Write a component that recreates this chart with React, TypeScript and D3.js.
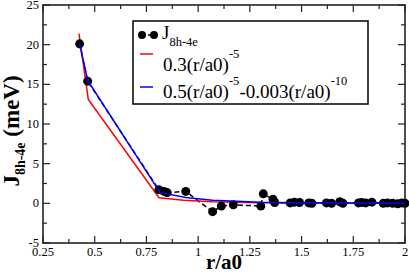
import React from "react";
import * as d3 from "d3";

// J_8h-4e data points (r/a0, meV)
const rData = [0.427, 0.466, 0.81, 0.835, 0.85, 0.94, 1.07, 1.112, 1.17, 1.303, 1.315, 1.362, 1.37, 1.445, 1.465, 1.49, 1.535, 1.55, 1.62, 1.645, 1.685, 1.7, 1.775, 1.79, 1.81, 1.84, 1.895, 1.915, 1.94, 1.965, 1.985, 2.0];
const jData = [20.1, 15.4, 1.72, 1.5, 1.35, 1.5, -1.05, -0.35, -0.18, -0.35, 1.2, 0.5, 0.1, 0.05, 0.15, 0.1, 0.05, 0.0, 0.05, 0.0, 0.2, 0.0, 0.05, 0.1, 0.05, 0.15, 0.0, 0.05, 0.0, -0.05, 0.05, 0.0];

// 0.3(r/a0)^-5 fit
const rRed = [0.424, 0.469, 0.811, 0.93, 1.07, 1.3, 1.5, 1.75, 2.0];
const jRed = [21.4, 13.1, 0.7, 0.4, 0.2, 0.08, 0.04, 0.02, 0.01];

// 0.5(r/a0)^-5-0.003(r/a0)^-10 fit
const rBlue = [0.427, 0.466, 0.815, 0.94, 1.07, 1.3, 1.5, 1.75, 2.0];
const jBlue = [20.1, 15.5, 1.38, 0.75, 0.4, 0.13, 0.06, 0.03, 0.01];

const xTicks = [0.25, 0.5, 0.75, 1, 1.25, 1.5, 1.75, 2];
const yTicks = [-5, 0, 5, 10, 15, 20, 25];

const W = 409;
const H = 273;
const FS = { fontFamily: '"Liberation Serif", monospace' };

const margin = { top: 5, left: 43, bottom: 30, right: 4 };
const x = d3.scaleLinear().domain([0.25, 2]).range([margin.left, W - margin.right]);
const y = d3.scaleLinear().domain([-5, 25]).range([H - margin.bottom, margin.top]);

type P = [number, number];
const line = d3
  .line<P>()
  .x((d) => x(d[0]))
  .y((d) => y(d[1]));

const App = () => {
  const [x0, x1] = x.range();
  const [y0, y1] = y.range();
  const xMinor = d3.range(0.375, 2, 0.25);
  const yMinor = d3.range(-2.5, 25, 5);
  const pts: P[] = rData.map((r, i) => [r, jData[i]]);
  const red: P[] = rRed.map((r, i) => [r, jRed[i]]);
  const blue: P[] = rBlue.map((r, i) => [r, jBlue[i]]);

  return (
    <svg width={W} height={H} style={{ position: "absolute", left: 0, top: 0, background: "white" }}>
      {/* ticks, inward on all sides */}
      <g stroke="#222" strokeWidth={1.2}>
        {xTicks.map((t) => (
          <g key={"xt" + t}>
            <line x1={x(t)} x2={x(t)} y1={y0} y2={y0 - 7} />
            <line x1={x(t)} x2={x(t)} y1={y1} y2={y1 + 7} />
          </g>
        ))}
        {xMinor.map((t) => (
          <g key={"xm" + t}>
            <line x1={x(t)} x2={x(t)} y1={y0} y2={y0 - 4} />
            <line x1={x(t)} x2={x(t)} y1={y1} y2={y1 + 4} />
          </g>
        ))}
        {yTicks.map((t) => (
          <g key={"yt" + t}>
            <line x1={x0} x2={x0 + 7} y1={y(t)} y2={y(t)} />
            <line x1={x1} x2={x1 - 7} y1={y(t)} y2={y(t)} />
          </g>
        ))}
        {yMinor.map((t) => (
          <g key={"ym" + t}>
            <line x1={x0} x2={x0 + 4} y1={y(t)} y2={y(t)} />
            <line x1={x1} x2={x1 - 4} y1={y(t)} y2={y(t)} />
          </g>
        ))}
      </g>
      <rect x={x0} y={y1} width={x1 - x0} height={y0 - y1} fill="none" stroke="#222" strokeWidth={1.6} />

      {/* tick labels */}
      {xTicks.map((t) => (
        <text key={"xl" + t} x={x(t)} y={y0 + 13} textAnchor="middle" fontSize={12.5} style={FS}>
          {String(t)}
        </text>
      ))}
      {yTicks.map((t) => (
        <text key={"yl" + t} x={x0 - 4} y={y(t) + 4} textAnchor="end" fontSize={12.5} style={FS}>
          {String(t)}
        </text>
      ))}

      {/* series */}
      <path d={line(pts) ?? ""} fill="none" stroke="black" strokeWidth={1.5} strokeDasharray="5,3" />
      <path d={line(red) ?? ""} fill="none" stroke="#ff0000" strokeWidth={1.5} />
      {pts.map((d, i) => (
        <circle key={i} cx={x(d[0])} cy={y(d[1])} r={4.5} fill="black" />
      ))}
      <path d={line(blue) ?? ""} fill="none" stroke="#0000ff" strokeWidth={1.5} />

      {/* axis titles */}
      <text x={(x0 + x1) / 2} y={269} textAnchor="middle" fontWeight="bold" fontSize={21} style={FS}>
        r/a0
      </text>
      <text transform="translate(19,131) rotate(-90)" textAnchor="middle" fontWeight="bold" fontSize={23} style={FS}>
        <tspan>J</tspan>
        <tspan fontSize={14} dy={6}>8h-4e</tspan>
        <tspan dy={-6}> (meV)</tspan>
      </text>

      {/* legend */}
      <g>
        <rect x={133} y={21} width={235} height={83} fill="white" stroke="black" strokeWidth={1.5} />
        <line x1={142} x2={154} y1={35} y2={35} stroke="black" strokeWidth={1.5} strokeDasharray="4,2" />
        <circle cx={142} cy={35} r={4} fill="black" />
        <circle cx={154} cy={35} r={4} fill="black" />
        <text x={162} y={39} fontSize={19} style={FS}>
          <tspan>J</tspan>
          <tspan fontSize={12.5} dy={7}>8h-4e</tspan>
        </text>

        <line x1={140} x2={153} y1={54} y2={54} stroke="#ff0000" strokeWidth={1.5} />
        <text x={163} y={71} fontSize={19} style={FS}>
          <tspan>0.3(r/a0)</tspan>
          <tspan fontSize={12.5} dy={-13}>-5</tspan>
        </text>

        <line x1={140} x2={153} y1={87} y2={87} stroke="#0000ff" strokeWidth={1.5} />
        <text x={163} y={98} fontSize={19} style={FS}>
          <tspan>0.5(r/a0)</tspan>
          <tspan fontSize={12.5} dy={-13}>-5</tspan>
          <tspan dy={13}>-0.003(r/a0)</tspan>
          <tspan fontSize={12.5} dy={-13}>-10</tspan>
        </text>
      </g>
    </svg>
  );
};

export default App;
